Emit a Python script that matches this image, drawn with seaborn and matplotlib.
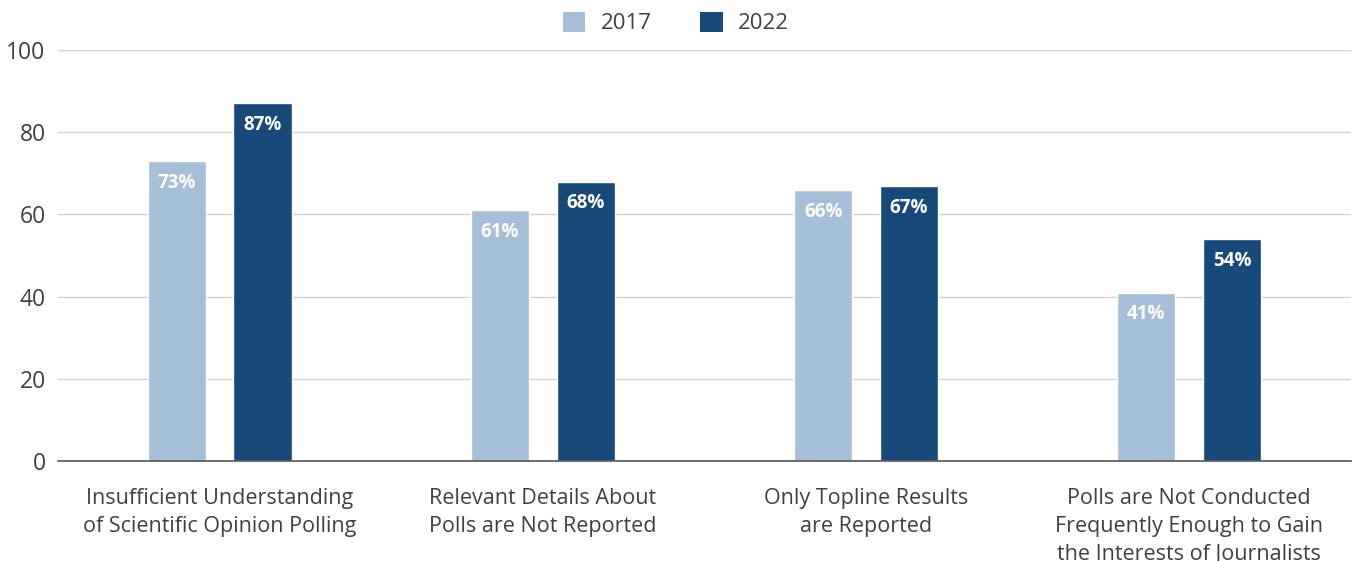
import matplotlib
matplotlib.use("Agg")
import matplotlib.pyplot as plt
from matplotlib.patches import Patch
import seaborn as sns
import pandas as pd

categorie = [
    "Insufficient Understanding\nof Scientific Opinion Polling",
    "Relevant Details About\nPolls are Not Reported",
    "Only Topline Results\nare Reported",
    "Polls are Not Conducted\nFrequently Enough to Gain\nthe Interests of Journalists",
]
valori_2017 = [73, 61, 66, 41]
valori_2022 = [87, 68, 67, 54]
anni = ["2017", "2022"]
colori = ["#a6bfd9", "#174a7b"]
tick_y = [0, 20, 40, 60, 80, 100]

df = pd.DataFrame({
    "categoria": categorie * 2,
    "anno": [anni[0]] * len(categorie) + [anni[1]] * len(categorie),
    "valore": valori_2017 + valori_2022,
})

sns.set_theme(style="white")
plt.rcParams["font.family"] = ["Open Sans", "DejaVu Sans"]

fig, ax = plt.subplots(figsize=(13.52, 5.61), dpi=100)
fig.subplots_adjust(left=0.043, right=0.999, top=0.911, bottom=0.178)

sns.barplot(data=df, x="categoria", y="valore", hue="anno", palette=colori,
            width=0.53, gap=0.32, saturation=1, legend=False, ax=ax)

# etichette dentro le barre
for cont, valori in zip(ax.containers, [valori_2017, valori_2022]):
    ax.bar_label(cont, labels=[f"{v}%" for v in valori], padding=-23,
                 color="white", fontweight="bold", fontsize=13.5)

ax.set_ylim(0, 100)
ax.set_xlim(-0.5, len(categorie) - 0.5)
ax.set_yticks(tick_y)
ax.yaxis.grid(True, color="#d3d3d3", linewidth=1)
ax.set_axisbelow(True)
ax.set_xlabel("")
ax.set_ylabel("")
for s in ["top", "right", "left"]:
    ax.spines[s].set_visible(False)
ax.spines["bottom"].set_color("#555555")
ax.spines["bottom"].set_linewidth(1.2)

ax.tick_params(axis="y", length=0, labelsize=16.5, colors="#404040", pad=9)
ax.tick_params(axis="x", length=0, labelsize=15.5, colors="#404040", pad=19)
for t in ax.get_xticklabels():
    t.set_linespacing(1.45)

handles = [Patch(facecolor=c, edgecolor="none") for c in colori]
fig.legend(handles, anni, loc="center", bbox_to_anchor=(0.5, 1 - 23 / 561),
           ncol=2, frameon=False, fontsize=16, handlelength=1.0, handleheight=1.0,
           columnspacing=2.2, handletextpad=0.7, labelcolor="#404040")

fig.savefig("out.png", dpi=100)
